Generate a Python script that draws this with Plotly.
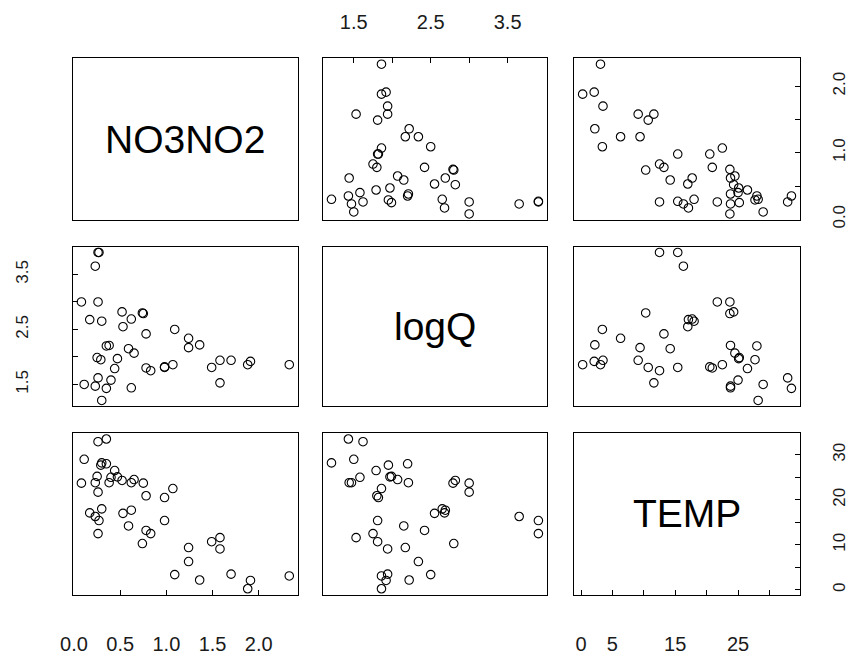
import plotly.graph_objects as go

var_names = ["NO3NO2", "logQ", "TEMP"]

no3no2 = [2.33, 1.88, 1.91, 1.70, 1.58, 1.49, 1.58, 1.36, 1.24, 1.24, 1.09, 1.07,
          0.98, 0.98, 0.83, 0.78, 0.78, 0.62, 0.65, 0.59, 0.74, 0.75, 0.62, 0.53,
          0.52, 0.44, 0.47, 0.40, 0.35, 0.30, 0.23, 0.26, 0.11, 0.29, 0.25, 0.35,
          0.38, 0.30, 0.17, 0.26, 0.08, 0.23, 0.26, 0.27]
logq = [1.86, 1.86, 1.92, 1.94, 1.53, 1.81, 1.94, 2.22, 2.17, 2.34, 2.50, 1.86,
        1.81, 1.82, 1.75, 1.80, 2.42, 1.44, 2.07, 2.15, 2.80, 2.79, 2.69, 2.55,
        2.82, 1.79, 1.97, 1.58, 1.43, 1.21, 1.47, 1.62, 1.50, 1.95, 1.99, 2.20,
        2.21, 2.65, 2.68, 3.00, 3.00, 3.65, 3.90, 3.90]
temp = [3.1, 0.26, 2.1, 3.5, 11.6, 10.7, 9.1, 2.2, 9.4, 6.3, 3.4, 22.5,
        15.4, 20.5, 12.5, 20.9, 13.2, 23.8, 24.5, 14.2, 10.3, 23.7, 17.7, 17.0,
        24.3, 26.5, 25.1, 25.0, 33.5, 28.2, 23.8, 32.9, 29.0, 27.7, 25.2, 28.0,
        23.8, 18.0, 17.1, 21.7, 23.7, 16.3, 12.5, 15.4]

no3_ticks = [0.0, 0.5, 1.0, 1.5, 2.0]
no3_bottom_text = ["0.0", "0.5", "1.0", "1.5", "2.0"]
no3_right_text = ["0.0", "", "1.0", "", "2.0"]
logq_ticks = [1.5, 2.0, 2.5, 3.0, 3.5, 4.0]
logq_text = ["1.5", "", "2.5", "", "3.5", ""]
temp_ticks = [0, 5, 10, 15, 20, 25, 30]
temp_bottom_text = ["0", "5", "", "15", "", "25", ""]
temp_right_text = ["0", "", "10", "", "20", "", "30"]

data = [no3no2, logq, temp]


def padded(v):
    lo, hi = min(v), max(v)
    d = (hi - lo) * 0.04
    return [lo - d, hi + d]


ranges = [padded(v) for v in data]

# panel domains (paper fractions)
xdom = [[0.0718, 0.3400], [0.3706, 0.6376], [0.6706, 0.9400]]
ydom = [[0.6611, 0.9103], [0.3739, 0.6201], [0.0836, 0.3328]]

FONT = "Liberation Sans, Arial, sans-serif"
fig = go.Figure()
layout = {}
annotations = []

base_axis = dict(showline=True, linecolor="black", linewidth=1.2, mirror=True,
                 showgrid=False, zeroline=False, ticks="", showticklabels=False,
                 ticklen=5, tickcolor="black", tickwidth=1)


def sfx(k):
    return "" if k == 1 else str(k)


for r in range(3):
    for c in range(3):
        k = r * 3 + c + 1
        s = sfx(k)
        xa = dict(base_axis, domain=xdom[c], range=ranges[c], anchor=f"y{s}")
        ya = dict(base_axis, domain=ydom[r], range=ranges[r], anchor=f"x{s}")
        if r != c:
            fig.add_trace(go.Scatter(
                x=data[c], y=data[r], mode="markers",
                marker=dict(symbol="circle-open", size=8.5, color="black",
                            line=dict(width=1.1, color="black")),
                xaxis=f"x{s}", yaxis=f"y{s}", showlegend=False,
                hoverinfo="skip"))
        else:
            # invisible trace so the diagonal panel's axes (box) are drawn
            fig.add_trace(go.Scatter(
                x=[data[c][0]], y=[data[r][0]], mode="markers",
                marker=dict(size=1, opacity=0),
                xaxis=f"x{s}", yaxis=f"y{s}", showlegend=False,
                hoverinfo="skip"))
            annotations.append(dict(
                text=var_names[r], x=0.5, y=0.5,
                xref=f"x{s} domain", yref=f"y{s} domain",
                showarrow=False, font=dict(family=FONT, size=39, color="black")))
        layout[f"xaxis{s}"] = xa
        layout[f"yaxis{s}"] = ya

tick_font_h = dict(family=FONT, size=20, color="#1a1a1a")
tick_font_v = dict(family=FONT, size=17, color="#1a1a1a")

# top axis of column 2 (logQ)
layout["xaxis2"].update(side="top", ticks="inside", showticklabels=True,
                        tickmode="array", tickvals=logq_ticks, ticktext=logq_text,
                        tickfont=tick_font_h, ticklabelstandoff=20)
# right axis of row 1 (NO3NO2)
layout["yaxis3"].update(side="right", ticks="inside", showticklabels=True,
                        tickmode="array", tickvals=no3_ticks, ticktext=no3_right_text,
                        tickfont=tick_font_v, tickangle=-90, ticklabelstandoff=24)
# left axis of row 2 (logQ)
layout["yaxis4"].update(side="left", ticks="inside", showticklabels=True,
                        tickmode="array", tickvals=logq_ticks, ticktext=logq_text,
                        tickfont=tick_font_v, tickangle=-90, ticklabelstandoff=37)
# bottom axis of column 1 (NO3NO2)
layout["xaxis7"].update(side="bottom", ticks="inside", showticklabels=True,
                        tickmode="array", tickvals=no3_ticks, ticktext=no3_bottom_text,
                        tickfont=tick_font_h, ticklabelstandoff=31)
# bottom & right axes of the TEMP diagonal panel
layout["xaxis9"].update(side="bottom", ticks="inside", showticklabels=True,
                        tickmode="array", tickvals=temp_ticks, ticktext=temp_bottom_text,
                        tickfont=tick_font_h, ticklabelstandoff=31)
layout["yaxis9"].update(side="right", ticks="inside", showticklabels=True,
                        tickmode="array", tickvals=temp_ticks, ticktext=temp_right_text,
                        tickfont=tick_font_v, tickangle=-90, ticklabelstandoff=24)

fig.update_layout(**layout)
fig.update_layout(width=850, height=658, margin=dict(l=0, r=0, t=0, b=0),
                  paper_bgcolor="white", plot_bgcolor="white",
                  annotations=annotations, showlegend=False,
                  font=dict(family=FONT))

fig.write_html("out.html")
